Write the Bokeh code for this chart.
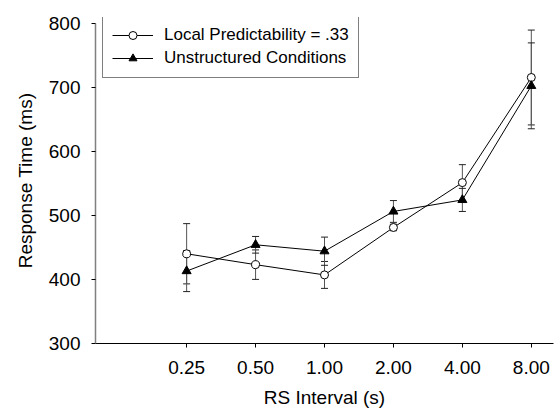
from bokeh.plotting import figure
from bokeh.models import (ColumnDataSource, Whisker, TeeHead, Legend, LegendItem,
                          FixedTicker, PrintfTickFormatter, Range1d)
from bokeh.embed import file_html
from bokeh.resources import INLINE

# Data
rs_interval = [0.25, 0.5, 1.0, 2.0, 4.0, 8.0]
tick_labels = ["0.25", "0.50", "1.00", "2.00", "4.00", "8.00"]
lp_mean = [440, 423, 407, 481, 551, 715]
lp_err = [47, 23, 21, 5, 28, 74]
un_mean = [413, 454, 444, 506, 524, 702]
un_err = [32, 13, 22, 17, 18, 67]

FONT = "Liberation Sans"

p = figure(width=559, height=415, output_backend="svg", toolbar_location=None,
           x_axis_type="log", x_range=Range1d(0.1, 10), y_range=Range1d(300, 808.6),
           min_border_left=95, min_border_right=6, min_border_top=17, min_border_bottom=72)
p.outline_line_color = None
p.xgrid.visible = False
p.ygrid.visible = False
p.background_fill_color = "white"
p.border_fill_color = "white"

lp_src = ColumnDataSource(dict(x=rs_interval, y=lp_mean,
                               lo=[m - e for m, e in zip(lp_mean, lp_err)],
                               hi=[m + e for m, e in zip(lp_mean, lp_err)]))
un_src = ColumnDataSource(dict(x=rs_interval, y=un_mean,
                               lo=[m - e for m, e in zip(un_mean, un_err)],
                               hi=[m + e for m, e in zip(un_mean, un_err)]))

for src in (lp_src, un_src):
    w = Whisker(base="x", lower="lo", upper="hi", source=src, dimension="height",
                line_color="#555555", line_width=1,
                upper_head=TeeHead(size=7, line_color="#222222", line_width=1),
                lower_head=TeeHead(size=7, line_color="#222222", line_width=1))
    p.add_layout(w)

l1 = p.line("x", "y", source=lp_src, line_color="black", line_width=1)
m1 = p.scatter("x", "y", source=lp_src, marker="circle", size=8,
               fill_color="white", line_color="black", line_width=1)
l2 = p.line("x", "y", source=un_src, line_color="black", line_width=1)
m2 = p.scatter("x", "y", source=un_src, marker="triangle", size=9,
               fill_color="black", line_color="black", line_width=1)

legend = Legend(items=[LegendItem(label="Local Predictability = .33", renderers=[l1, m1]),
                       LegendItem(label="Unstructured Conditions", renderers=[l2, m2])],
                location=(7, 265), margin=0, padding=9, spacing=3,
                glyph_width=41, glyph_height=20, label_height=20, label_standoff=11,
                label_text_font=FONT, label_text_font_size="17px",
                label_text_color="black",
                border_line_color="black", border_line_width=1,
                background_fill_color="white", background_fill_alpha=1)
p.add_layout(legend)

# x axis
xa = p.xaxis[0]
xa.ticker = FixedTicker(ticks=rs_interval, minor_ticks=[])
xa.formatter = PrintfTickFormatter(format="%.2f")
xa.axis_label = "RS Interval (s)"
xa.axis_label_text_font = FONT
xa.axis_label_text_font_style = "normal"
xa.axis_label_text_font_size = "19px"
xa.axis_label_text_color = "black"
xa.major_label_text_font = FONT
xa.major_label_text_font_size = "19px"
xa.major_label_text_color = "black"
xa.major_label_standoff = 13
xa.axis_label_standoff = 10
xa.major_tick_in = 0
xa.major_tick_out = 4
xa.minor_tick_in = 0
xa.minor_tick_out = 0
xa.axis_line_color = "black"
xa.major_tick_line_color = "black"

# y axis
ya = p.yaxis[0]
ya.ticker = FixedTicker(ticks=[300, 400, 500, 600, 700, 800], minor_ticks=[])
ya.bounds = (300, 800)
ya.axis_label = "Response Time (ms)"
ya.axis_label_text_font = FONT
ya.axis_label_text_font_style = "normal"
ya.axis_label_text_font_size = "19px"
ya.axis_label_text_color = "black"
ya.major_label_text_font = FONT
ya.major_label_text_font_size = "19px"
ya.major_label_text_color = "black"
ya.major_label_standoff = 11
ya.axis_label_standoff = 10
ya.major_tick_in = 0
ya.major_tick_out = 4
ya.minor_tick_in = 0
ya.minor_tick_out = 0
ya.axis_line_color = "#808080"
ya.axis_line_width = 1.5
ya.major_tick_line_color = "black"

with open("out.html", "w") as f:
    f.write(file_html(p, INLINE))
